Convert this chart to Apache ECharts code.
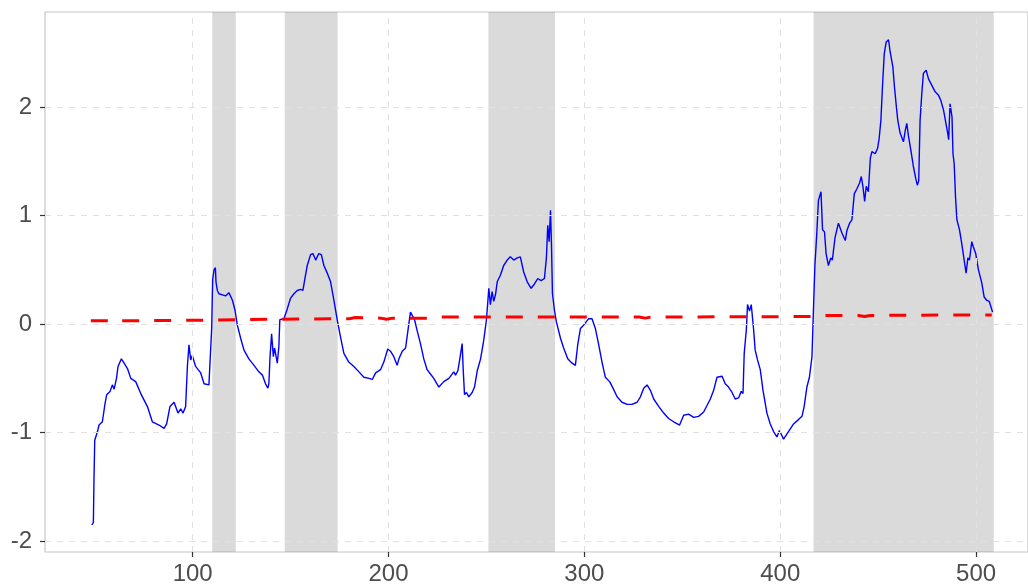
<!DOCTYPE html>
<html>
<head>
<meta charset="utf-8">
<script src="https://cdn.jsdelivr.net/npm/echarts@6/dist/echarts.min.js"></script>
<style>html,body{margin:0;padding:0;background:#fff}#c{width:1028px;height:588px}</style>
</head>
<body>
<div id="c"></div>
<script>
// ---- data ----
const xTicks = [100, 200, 300, 400, 500];
const yTicks = [-2, -1, 0, 1, 2];
const bandStarts = [110, 147, 251, 417];
const bandEnds = [122, 174, 285, 509];

const blueX = [48.5,49.3,49.6,50.0,51.4,52.2,53.9,55.1,56.1,57.8,59.0,59.9,61.1,61.9,63.6,65.0,66.7,68.4,70.9,73.5,76.9,79.4,82.8,85.4,86.7,88.4,90.5,92.5,93.9,95.1,96.4,97.3,98.1,99.0,99.8,101.5,104.1,105.8,108.3,109.2,109.7,110.2,110.9,111.6,111.9,112.6,113.4,115.2,116.8,118.5,120.3,121.6,122.8,124.5,126.2,128.7,131.3,133.8,135.6,137.2,138.4,138.9,139.5,140.3,141.2,141.8,143.2,144.0,144.5,146.6,148.3,150.0,151.7,153.4,155.1,156.3,157.3,158.5,160.2,161.4,162.8,164.4,165.7,167.0,168.7,170.4,172.1,173.8,175.5,177.2,179.7,182.3,184.9,187.4,190.0,191.7,193.4,195.9,197.6,199.6,201.0,202.7,204.4,205.3,207.0,208.7,209.9,211.2,212.1,213.3,214.6,216.3,218.0,219.7,221.4,223.1,225.7,228.2,230.8,233.3,234.2,235.4,236.4,237.6,238.1,238.8,239.8,241.0,242.7,243.9,245.3,247.0,248.6,250.0,251.2,252.0,252.9,253.7,254.6,255.5,257.1,258.8,260.6,262.2,263.9,265.7,267.3,269.0,270.8,272.8,274.5,276.2,277.9,279.6,280.6,281.3,282.0,282.7,283.2,283.7,284.7,285.7,287.8,289.4,291.5,293.7,295.4,296.6,298.0,299.6,302.2,303.9,305.6,307.3,309.0,310.7,312.9,314.6,316.7,319.2,321.8,324.3,326.9,328.6,330.3,332.0,333.7,335.4,338.0,340.5,343.0,345.6,348.6,350.7,353.2,355.8,358.3,360.9,362.6,364.3,366.0,367.7,370.3,371.9,373.6,375.4,377.0,378.7,380.1,381.0,381.6,382.7,383.3,384.3,385.2,386.4,387.2,388.4,389.8,391.2,393.2,394.9,396.6,398.3,399.6,401.7,404.2,406.8,409.3,411.1,412.2,413.6,414.9,416.2,417.0,417.7,418.7,419.5,420.8,421.6,422.6,423.4,424.6,425.8,426.6,428.0,429.7,431.5,433.2,434.0,435.4,436.6,437.8,439.2,440.5,441.4,442.2,443.1,443.9,445.0,446.0,446.8,448.5,449.7,450.5,451.4,452.2,453.1,454.1,455.3,456.1,457.5,458.3,459.2,460.0,461.2,462.9,463.8,464.6,465.5,466.8,468.0,469.2,470.0,470.7,471.4,472.3,473.1,474.5,475.7,477.4,479.1,480.8,482.0,483.4,484.6,485.5,486.0,486.7,487.7,488.2,488.8,489.5,490.2,491.5,492.7,493.9,494.9,495.8,496.6,497.8,498.6,499.8,501.2,502.9,504.1,505.4,506.7,508.4];
const blueY = [-1.85,-1.83,-1.44,-1.07,-0.99,-0.93,-0.90,-0.75,-0.65,-0.62,-0.56,-0.60,-0.50,-0.39,-0.32,-0.36,-0.41,-0.50,-0.53,-0.64,-0.76,-0.90,-0.93,-0.96,-0.92,-0.76,-0.72,-0.82,-0.78,-0.82,-0.76,-0.39,-0.19,-0.33,-0.29,-0.39,-0.45,-0.55,-0.56,-0.55,-0.04,0.41,0.50,0.52,0.39,0.31,0.28,0.27,0.26,0.29,0.22,0.13,-0.01,-0.13,-0.24,-0.32,-0.38,-0.44,-0.47,-0.55,-0.59,-0.55,-0.30,-0.09,-0.30,-0.22,-0.36,-0.21,0.04,0.05,0.14,0.24,0.28,0.31,0.32,0.31,0.42,0.54,0.64,0.65,0.59,0.65,0.64,0.54,0.47,0.39,0.22,0.04,-0.12,-0.27,-0.35,-0.39,-0.44,-0.49,-0.50,-0.51,-0.45,-0.42,-0.35,-0.23,-0.25,-0.30,-0.38,-0.32,-0.25,-0.22,-0.06,0.11,0.08,0.04,-0.06,-0.18,-0.32,-0.42,-0.46,-0.50,-0.58,-0.53,-0.50,-0.44,-0.47,-0.43,-0.32,-0.18,-0.41,-0.65,-0.63,-0.67,-0.63,-0.58,-0.43,-0.32,-0.15,0.04,0.33,0.18,0.30,0.21,0.27,0.39,0.45,0.54,0.59,0.62,0.59,0.61,0.62,0.48,0.39,0.33,0.37,0.42,0.40,0.42,0.61,0.91,0.76,1.05,0.73,0.28,0.13,0.02,-0.13,-0.22,-0.32,-0.36,-0.38,-0.19,-0.04,-0.01,0.05,0.05,-0.04,-0.19,-0.35,-0.49,-0.53,-0.59,-0.67,-0.72,-0.74,-0.74,-0.72,-0.67,-0.59,-0.56,-0.61,-0.69,-0.76,-0.82,-0.87,-0.90,-0.93,-0.84,-0.83,-0.86,-0.85,-0.81,-0.75,-0.69,-0.61,-0.49,-0.48,-0.55,-0.58,-0.63,-0.69,-0.68,-0.62,-0.64,-0.27,-0.05,0.18,0.12,0.18,-0.05,-0.24,-0.33,-0.42,-0.61,-0.82,-0.92,-0.99,-1.04,-0.98,-1.06,-0.99,-0.92,-0.88,-0.85,-0.76,-0.58,-0.49,-0.30,0.16,0.54,0.85,1.14,1.22,0.87,0.85,0.65,0.54,0.61,0.59,0.80,0.93,0.84,0.77,0.86,0.93,0.96,1.20,1.25,1.30,1.36,1.27,1.13,1.27,1.22,1.53,1.59,1.57,1.62,1.71,1.88,2.19,2.49,2.60,2.62,2.51,2.37,2.19,2.02,1.88,1.76,1.68,1.78,1.85,1.73,1.59,1.45,1.34,1.28,1.32,1.88,2.13,2.31,2.34,2.26,2.20,2.14,2.11,2.06,1.97,1.85,1.76,1.70,2.03,1.91,1.57,1.48,1.17,0.96,0.87,0.74,0.59,0.47,0.61,0.59,0.76,0.71,0.65,0.50,0.38,0.25,0.22,0.21,0.11];

const redX = [48, 60, 62, 64, 100, 140, 180, 183, 196, 199, 202, 224, 227, 260, 300, 328, 331, 334, 420, 423, 426, 440, 443, 446, 508];
const redY = [0.030, 0.030, 0.045, 0.030, 0.035, 0.045, 0.050, 0.060, 0.055, 0.045, 0.055, 0.055, 0.065, 0.065, 0.065, 0.065, 0.055, 0.065, 0.070, 0.080, 0.080, 0.080, 0.070, 0.080, 0.085];

// ---- build ----
const blueData = blueX.map((x, i) => [x, blueY[i]]);
const redData = redX.map((x, i) => [x, redY[i]]);
const bands = bandStarts.map((s, i) => [{ xAxis: s }, { xAxis: bandEnds[i] }]);
const gridLines = xTicks.map(v => ({ xAxis: v })).concat(yTicks.map(v => ({ yAxis: v })));

const font = 'Liberation Sans, Arial, sans-serif';
const chart = echarts.init(document.getElementById('c'), null, { renderer: 'canvas' });
chart.setOption({
  animation: false,
  backgroundColor: '#ffffff',
  grid: { left: 45, right: -2, top: 12, bottom: 36, show: true, borderColor: '#c6c6c6', borderWidth: 1.2, backgroundColor: '#ffffff' },
  xAxis: {
    type: 'value', min: 24.6, max: 526.5,
    axisLine: { show: false, onZero: false },
    splitLine: { show: false },
    axisTick: { show: true, length: 5, customValues: xTicks, lineStyle: { color: '#333333', width: 1.2 } },
    axisLabel: { customValues: xTicks, color: '#4d4d4d', fontSize: 24, fontFamily: font, margin: 10 }
  },
  yAxis: {
    type: 'value', min: -2.1, max: 2.876,
    axisLine: { show: false, onZero: false },
    splitLine: { show: false },
    axisTick: { show: true, length: 5, customValues: yTicks, lineStyle: { color: '#333333', width: 1.2 } },
    axisLabel: { customValues: yTicks, color: '#4d4d4d', fontSize: 24, fontFamily: font, margin: 13 }
  },
  series: [
    {
      name: 'grid', type: 'line', data: [], silent: true, z: 1,
      markLine: {
        silent: true, symbol: ['none', 'none'], label: { show: false },
        lineStyle: { type: [6, 6], color: '#e0e0e0', width: 1 },
        emphasis: { disabled: true },
        data: gridLines
      }
    },
    {
      name: 'bands', type: 'line', data: [], silent: true, z: 2,
      markArea: { silent: true, itemStyle: { color: 'rgba(127,127,127,0.29)' }, emphasis: { disabled: true }, data: bands }
    },
    {
      name: 'value', type: 'line', data: blueData, showSymbol: false, z: 4,
      lineStyle: { color: '#0000ff', width: 1.4 }, itemStyle: { color: '#0000ff' }
    },
    {
      name: 'threshold', type: 'line', data: redData, showSymbol: false, z: 5,
      lineStyle: { color: '#ff0000', width: 3, type: [17, 15] }, itemStyle: { color: '#ff0000' }
    }
  ]
});
</script>
</body>
</html>
